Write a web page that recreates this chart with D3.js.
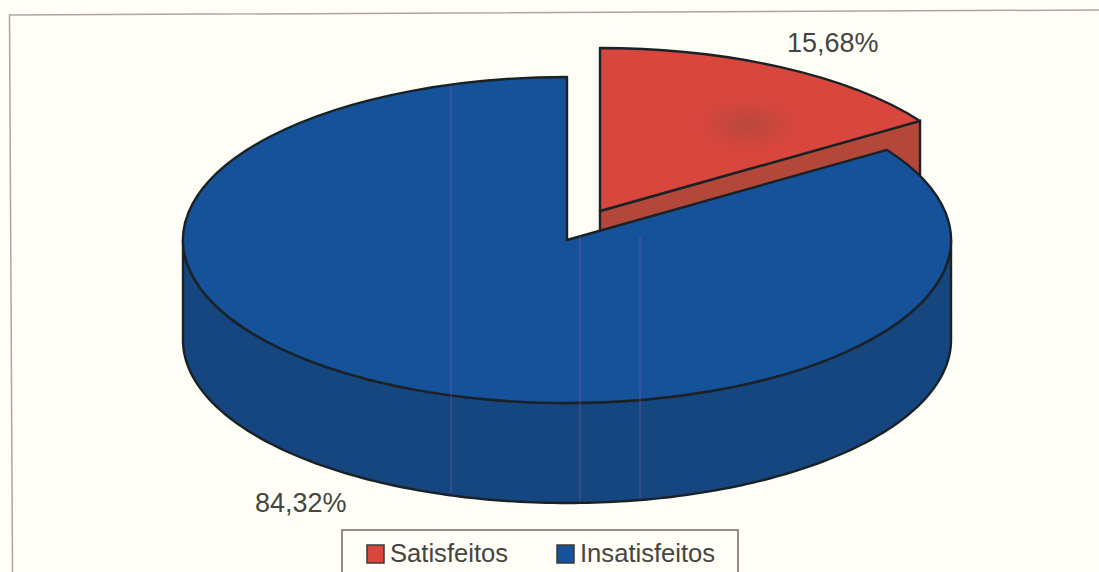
<!DOCTYPE html>
<html>
<head>
<meta charset="utf-8">
<script src="https://cdnjs.cloudflare.com/ajax/libs/d3/7.8.5/d3.min.js"></script>
<style>
html,body{margin:0;padding:0;background:#fefdf6;overflow:hidden}
svg{display:block}
text{font-family:"Liberation Sans",Arial,sans-serif;fill:#454541}
</style>
</head>
<body>
<svg id="chart" width="1099" height="572"></svg>
<script>
// Satisfaction shares, drawn as an extruded pie with one exploded slice
const categories = ["Satisfeitos", "Insatisfeitos"];
const shares = [15.68, 84.32];
const shareLabels = ["15,68%", "84,32%"];
const topColors = ["#d9463e", "#15529a"];
const sideColors = ["#b3483a", "#15467f"];
const streakPositions = [451, 580, 640];

const svg = d3.select("#chart");
const rx = 384, ry = 163, depth = 100;
const pieCenter = {x: 567, y: 240};
const explodedCenter = {x: 600, y: 211};

const defs = svg.append("defs");
const smudge = defs.append("radialGradient").attr("id", "smudge");
smudge.append("stop").attr("offset", 0).attr("stop-color", "#8a4a3a").attr("stop-opacity", 0.38);
smudge.append("stop").attr("offset", 1).attr("stop-color", "#8a4a3a").attr("stop-opacity", 0);

// Page frame, very slightly skewed as on the scanned sheet
const frame = d3.line();
svg.append("path")
  .attr("d", frame([[1099, 10], [9.5, 15], [12.5, 572]]))
  .attr("fill", "none").attr("stroke", "#a8a8a0").attr("stroke-width", 1.5);

const slices = d3.pie().sort(null)(shares);
const arc = d3.arc().innerRadius(0).outerRadius(rx);
const project = (c, a, dz = 0) => [c.x + rx * Math.sin(a), c.y - ry * Math.cos(a) + dz];

const wedge = (slice, c) => svg.append("path")
  .attr("d", arc(slice))
  .attr("transform", `translate(${c.x},${c.y}) scale(1,${ry / rx})`)
  .attr("fill", topColors[slice.index])
  .attr("stroke", "#1a2226").attr("stroke-width", 2.4)
  .attr("stroke-linejoin", "round")
  .attr("vector-effect", "non-scaling-stroke");

// Exploded slice: the cut face first, then its top
const red = slices[0];
svg.append("path")
  .attr("d", d3.line()([
    [explodedCenter.x, explodedCenter.y],
    project(explodedCenter, red.endAngle),
    project(explodedCenter, red.endAngle, depth),
    [explodedCenter.x, explodedCenter.y + depth]
  ]) + "Z")
  .attr("fill", sideColors[0]).attr("stroke", "#1a2226").attr("stroke-width", 2.4);
wedge(red, explodedCenter);
svg.append("ellipse").attr("cx", 748).attr("cy", 125).attr("rx", 52).attr("ry", 28)
  .attr("fill", "url(#smudge)");

// Outer wall of the large slice, visible along the front half of the rim
const blue = slices[1];
const rim = d3.range(Math.PI / 2, Math.PI * 1.5 + 0.001, Math.PI / 180);
const wall = rim.map(a => project(pieCenter, a))
  .concat(rim.slice().reverse().map(a => project(pieCenter, a, depth)));
svg.append("path")
  .attr("d", d3.line()(wall) + "Z")
  .attr("fill", sideColors[1]).attr("stroke", "#1a2226").attr("stroke-width", 2.4);
wedge(blue, pieCenter);

// Faint vertical streaks running through the blue area
const streakTop = x => pieCenter.y - ry * Math.sqrt(1 - ((x - pieCenter.x) / rx) ** 2);
const streakBottom = x => pieCenter.y + depth + ry * Math.sqrt(1 - ((x - pieCenter.x) / rx) ** 2);
svg.selectAll(".streak").data(streakPositions).join("line")
  .attr("class", "streak")
  .attr("x1", d => d).attr("x2", d => d)
  .attr("y1", d => d < pieCenter.x ? streakTop(d) + 2 : 236)
  .attr("y2", d => streakBottom(d) - 2)
  .attr("stroke", "#8a5a9c").attr("stroke-opacity", 0.5).attr("stroke-width", 1.2);

// Value labels
svg.selectAll(".value").data(shareLabels).join("text")
  .attr("class", "value")
  .attr("x", (d, i) => [787, 255][i])
  .attr("y", (d, i) => [52, 512][i])
  .attr("font-size", 27)
  .text(d => d);

// Legend, cut by the lower edge of the sheet
svg.append("rect")
  .attr("x", 342).attr("y", 530).attr("width", 396).attr("height", 60)
  .attr("fill", "#fefdf6").attr("stroke", "#6b6b64").attr("stroke-width", 1.5);
const legend = svg.selectAll(".legend").data(categories).join("g")
  .attr("class", "legend")
  .attr("transform", (d, i) => `translate(${[367, 557][i]},545)`);
legend.append("rect")
  .attr("width", 17).attr("height", 18)
  .attr("fill", (d, i) => topColors[i])
  .attr("stroke", "#3a3a38").attr("stroke-width", 1.5);
legend.append("text")
  .attr("x", 23).attr("y", 17)
  .attr("font-size", 25.6)
  .text(d => d);
</script>
</body>
</html>
